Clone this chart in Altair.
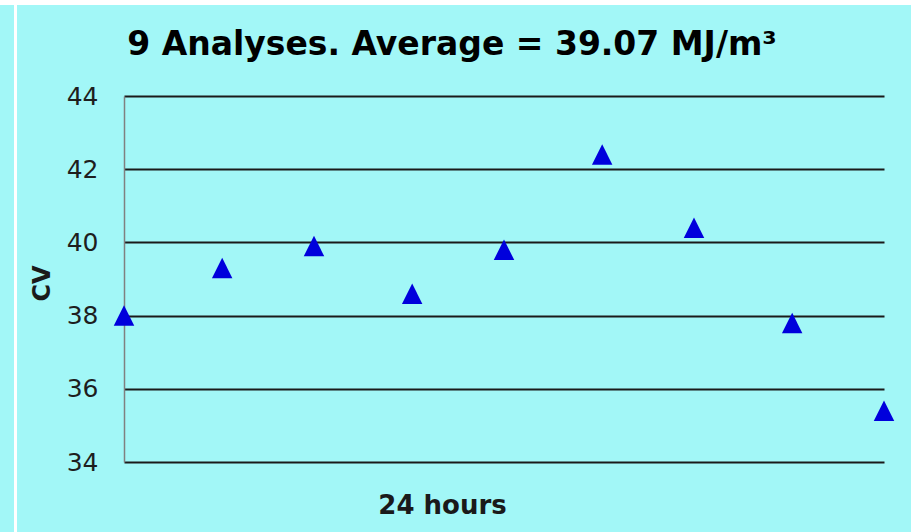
import altair as alt
import pandas as pd

# Sample times (hours into the 24 h run) and calorific values
hours = [0, 3.1, 6.0, 9.1, 12.0, 15.1, 18.0, 21.1, 24]
cv_values = [38.0, 39.3, 39.9, 38.6, 39.8, 42.4, 40.4, 37.8, 35.4]
y_ticks = [34, 36, 38, 40, 42, 44]

title_text = "9 Analyses. Average = 39.07 MJ/m³"
x_title = "24 hours"
y_title = "CV"

BG = "#a2f7f7"
FONT = "DejaVu Sans"

df = pd.DataFrame({"hour": hours, "cv": cv_values})

W, H = 760, 366
PAD_L, PAD_T = 124, 96

base = alt.Chart(df)

points = base.mark_point(
    shape="M0,-1L1,1L-1,1Z", filled=True, color="#0000dc", size=420, opacity=1
).encode(
    x=alt.X("hour:Q", scale=alt.Scale(domain=[0, 24], nice=False, zero=False),
            axis=alt.Axis(title=x_title, labels=False, ticks=False, grid=False,
                          domain=False, titleFont=FONT, titleFontSize=26,
                          titleFontWeight="bold", titleColor="#1a1a1a",
                          titleX=318, titleY=43,
                          titleAlign="center", titleBaseline="middle")),
    y=alt.Y("cv:Q", scale=alt.Scale(domain=[34, 44], nice=False, zero=False),
            axis=alt.Axis(title=y_title, values=y_ticks, ticks=False,
                          grid=True, gridColor="#1a1a1a", gridWidth=2,
                          domainColor="#808080", domainWidth=1.5,
                          labelFont=FONT, labelFontSize=25, labelColor="#1e1e1e",
                          labelPadding=26,
                          titleFont=FONT, titleFontSize=24, titleFontWeight="bold",
                          titleColor="#1a1a1a", titleAngle=270,
                          titleX=-82, titleY=187, titleAlign="center",
                          titleBaseline="middle")),
)

# Chart title as a single text mark
title_df = pd.DataFrame({"t": [title_text]})
title_mark = alt.Chart(title_df).mark_text(
    font=FONT, fontSize=33, fontWeight="bold", color="#000000",
    align="center", baseline="alphabetic"
).encode(text="t:N", x=alt.value(328), y=alt.value(-41))

# White frame strips along the top and left edges
frame_df = pd.DataFrame({"k": [0]})
top_strip = alt.Chart(frame_df).mark_rule(color="white", strokeWidth=5).encode(
    x=alt.value(-PAD_L), x2=alt.value(911 - PAD_L), y=alt.value(-PAD_T + 2.5)
)
left_strip = alt.Chart(frame_df).mark_rule(color="white", strokeWidth=3).encode(
    x=alt.value(15.5 - PAD_L), y=alt.value(-PAD_T), y2=alt.value(532 - PAD_T)
)

chart = alt.layer(points, title_mark, top_strip, left_strip).properties(
    width=W, height=H,
    background=BG,
    padding={"left": PAD_L, "top": PAD_T, "right": 911 - PAD_L - W, "bottom": 532 - PAD_T - H},
    autosize=alt.AutoSizeParams(type="none"),
).configure_view(stroke=None)

chart.save("out.html", embed_options={"renderer": "svg", "actions": False})
